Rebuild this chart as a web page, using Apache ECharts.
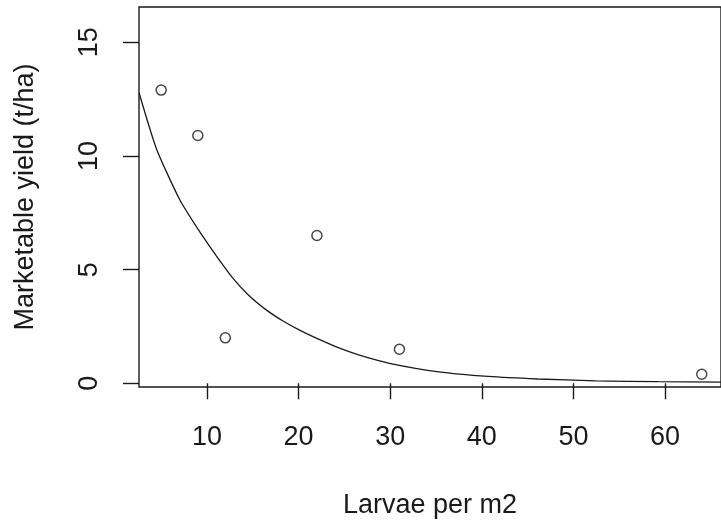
<!DOCTYPE html>
<html>
<head>
<meta charset="utf-8">
<title>Marketable yield vs larvae</title>
<script src="https://cdn.jsdelivr.net/npm/echarts@6/dist/echarts.min.js"></script>
<style>
  html, body { margin: 0; padding: 0; background: #fff; }
  #chart { width: 721px; height: 526px; }
</style>
</head>
<body>
<div id="chart"></div>
<script type="text/javascript">
// observed points
var larvae = [5, 9, 12, 22, 31, 64];
var yieldObs = [12.9, 10.9, 2.0, 6.5, 1.5, 0.4];

// fitted curve
var curveX = [2.6, 4.5, 7.0, 9.2, 11.0, 12.8, 14.6, 16.5, 18.3, 20.1, 22.3, 24.4, 27.1, 29.9, 35.3, 40.7, 46.1, 52.4, 59.2, 66.1];
var curveY = [12.76, 10.3, 8.1, 6.67, 5.62, 4.64, 3.85, 3.22, 2.74, 2.34, 1.92, 1.56, 1.18, 0.88, 0.5, 0.3, 0.19, 0.11, 0.07, 0.05];

var xTicks = [10, 20, 30, 40, 50, 60];
var yTicks = [0, 5, 10, 15];

var chart = echarts.init(document.getElementById('chart'));

var pts = larvae.map(function (x, i) { return [x, yieldObs[i]]; });
var fit = curveX.map(function (x, i) { return [x, curveY[i]]; });

var font = "'Liberation Sans', Arial, sans-serif";
var ink = '#1a1a1a';

var option = {
    backgroundColor: '#fff',
    animation: false,
    grid: {
        left: 139, right: -3, top: 7, bottom: 139,
        show: true,
        borderColor: ink,
        borderWidth: 1.4
    },
    xAxis: {
        type: 'value',
        min: 2.58,
        max: 66.1,
        name: 'Larvae per m2',
        nameLocation: 'middle',
        nameGap: 105,
        nameTextStyle: { fontFamily: font, fontSize: 27, color: ink },
        axisLine: { show: false },
        splitLine: { show: false },
        axisTick: {
            show: true, length: 16, customValues: xTicks,
            lineStyle: { color: ink, width: 1.4 }
        },
        axisLabel: {
            customValues: xTicks, margin: 37,
            fontFamily: font, fontSize: 27, color: ink
        }
    },
    yAxis: {
        type: 'value',
        min: -0.163,
        max: 16.555,
        name: 'Marketable yield (t/ha)',
        nameLocation: 'middle',
        nameGap: 100,
        nameTextStyle: { fontFamily: font, fontSize: 27, color: ink },
        axisLine: { show: false },
        splitLine: { show: false },
        axisTick: {
            show: true, length: 16, customValues: yTicks,
            lineStyle: { color: ink, width: 1.4 }
        },
        axisLabel: {
            customValues: yTicks, margin: 36, rotate: 90,
            fontFamily: font, fontSize: 27, color: ink
        }
    },
    series: [
        {
            type: 'line',
            data: fit,
            showSymbol: false,
            smooth: 0.2,
            clip: true,
            lineStyle: { color: ink, width: 1.3 }
        },
        {
            type: 'scatter',
            data: pts,
            symbol: 'circle',
            symbolSize: 10,
            itemStyle: { color: 'rgba(0,0,0,0)', borderColor: ink, borderWidth: 1.5 }
        }
    ]
};

chart.setOption(option);
</script>
</body>
</html>
